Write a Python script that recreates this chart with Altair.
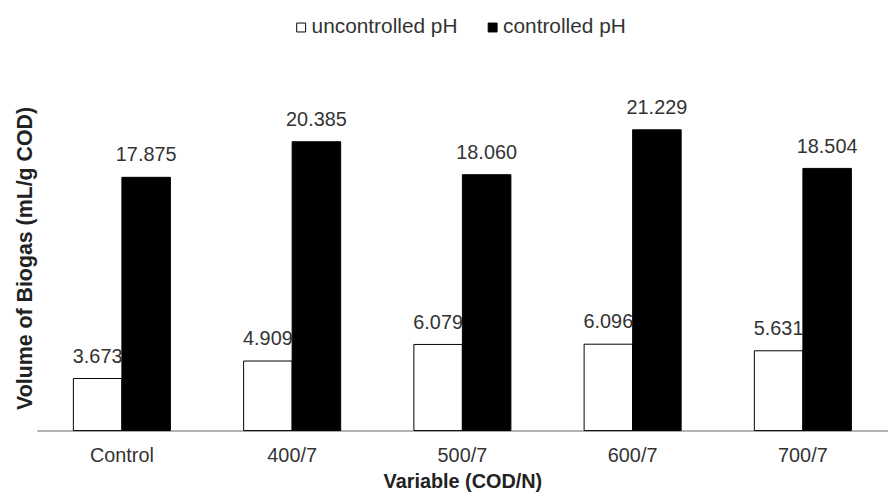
import altair as alt
import pandas as pd

categories = ["Control", "400/7", "500/7", "600/7", "700/7"]
uncontrolled = [3.673, 4.909, 6.079, 6.096, 5.631]
controlled = [17.875, 20.385, 18.060, 21.229, 18.504]
series = ["uncontrolled pH", "controlled pH"]

rows = []
for c, u, k in zip(categories, uncontrolled, controlled):
    rows.append({"cat": c, "series": series[0], "value": u, "label": f"{u:.3f}"})
    rows.append({"cat": c, "series": series[1], "value": k, "label": f"{k:.3f}"})
df = pd.DataFrame(rows)

FONT = "Liberation Sans"

x = alt.X("cat:N", sort=categories,
          scale=alt.Scale(paddingInner=0.43, paddingOuter=0.215),
          axis=alt.Axis(title="Variable (COD/N)", labelAngle=0, tickSize=0,
                        labelPadding=15, labelFontSize=20, labelColor="#333",
                        labelFont=FONT, titleFont=FONT, titleFontSize=20,
                        titleFontWeight="bold", titleColor="#222", titlePadding=6,
                        domainColor="#999", domainWidth=1.5))
xo = alt.XOffset("series:N", sort=series, scale=alt.Scale(domain=series, paddingInner=0))
y = alt.Y("value:Q", scale=alt.Scale(domain=[0, 25], nice=False),
          axis=alt.Axis(title="Volume of Biogas (mL/g COD)", labels=False, ticks=False,
                        domain=False, grid=False, titleFont=FONT, titleFontSize=21.5,
                        titleFontWeight="bold", titleColor="#222",
                        titleX=-5, titleY=183, titleBaseline="alphabetic",
                        titleAlign="center", titleAngle=270))

bars = alt.Chart(df).mark_bar(stroke="black", strokeWidth=1).encode(
    x=x, xOffset=xo, y=y,
    color=alt.Color("series:N", sort=series,
                    scale=alt.Scale(domain=series, range=["white", "black"]),
                    legend=alt.Legend(title=None, orient="none", direction="horizontal",
                                      legendX=256, legendY=-60, symbolType="square",
                                      symbolSize=81, symbolStrokeColor="black",
                                      symbolStrokeWidth=1, labelFont=FONT,
                                      labelFontSize=21, labelColor="#333",
                                      labelOffset=0, columnPadding=24)),
)

text = alt.Chart(df).mark_text(baseline="alphabetic", dy=-16, fontSize=20, font=FONT,
                               color="#333").encode(
    x=alt.X("cat:N", sort=categories), xOffset=xo, y="value:Q", text="label:N")

chart = (bars + text).properties(
    width=858, height=357,
    autosize=alt.AutoSizeParams(type="none"),
    padding={"left": 29, "top": 67, "right": 0, "bottom": 60},
).configure_view(stroke=None).configure_axis(grid=False)

chart.save("out.html", embed_options={"renderer": "svg", "actions": False})
